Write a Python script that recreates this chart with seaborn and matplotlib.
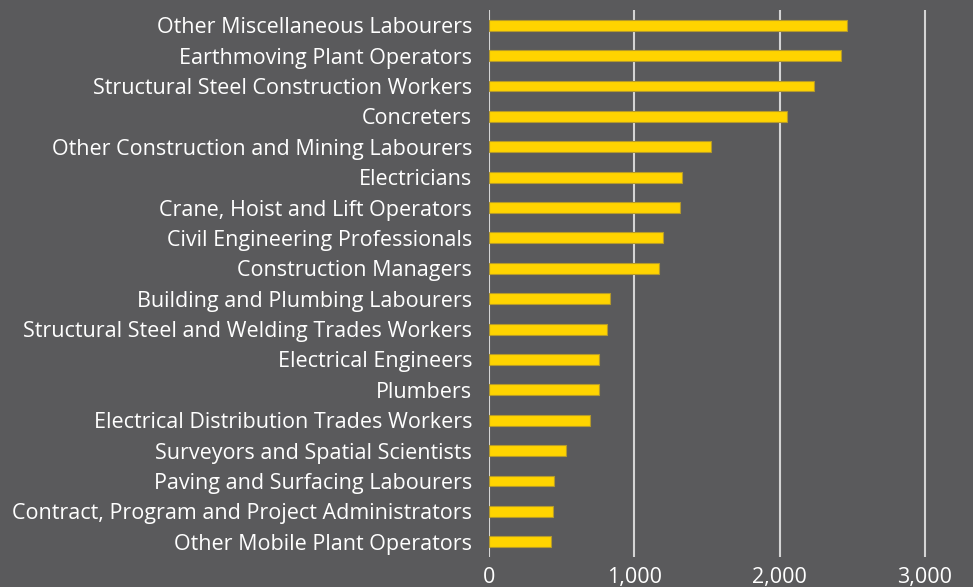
import matplotlib
matplotlib.use('Agg')
import matplotlib.pyplot as plt
import pandas as pd
import seaborn as sns

occupations = [
    'Other Miscellaneous Labourers',
    'Earthmoving Plant Operators',
    'Structural Steel Construction Workers',
    'Concreters',
    'Other Construction and Mining Labourers',
    'Electricians',
    'Crane, Hoist and Lift Operators',
    'Civil Engineering Professionals',
    'Construction Managers',
    'Building and Plumbing Labourers',
    'Structural Steel and Welding Trades Workers',
    'Electrical Engineers',
    'Plumbers',
    'Electrical Distribution Trades Workers',
    'Surveyors and Spatial Scientists',
    'Paving and Surfacing Labourers',
    'Contract, Program and Project Administrators',
    'Other Mobile Plant Operators',
]
workers = [2462, 2423, 2237, 2051, 1528, 1328, 1314, 1197, 1170,
           835, 814, 757, 755, 695, 532, 447, 440, 429]
tick_vals = [0, 1000, 2000, 3000]
tick_labels = ['0', '1,000', '2,000', '3,000']

df = pd.DataFrame({'occupation': occupations, 'workers': workers})

bg = '#5a5a5c'
sns.set_style('dark')
plt.rcParams['font.family'] = ['Open Sans', 'DejaVu Sans']
plt.rcParams['font.weight'] = 'medium'

fig = plt.figure(figsize=(9.73, 5.87), dpi=100, facecolor=bg)
ax = fig.add_axes([489 / 973, 1 - 557 / 587, 1 - 489 / 973, (557 - 10) / 587])
ax.set_facecolor(bg)

sns.barplot(data=df, x='workers', y='occupation', color='#ffd400',
            edgecolor='#b59a2a', linewidth=0.8, width=0.36, saturation=1, ax=ax)

ax.set_xlim(0, 3330)
ax.set_ylim(17.5, -0.5)
ax.set_xticks(tick_vals)
ax.set_xticklabels(tick_labels)
for v in tick_vals:
    ax.axvline(v, color='#d4d4d4', lw=1.5, zorder=0)

for s in ax.spines.values():
    s.set_visible(False)
ax.grid(False)
ax.tick_params(axis='y', length=0, pad=12, labelsize=15.5, labelcolor='white')
ax.tick_params(axis='x', length=0, pad=7, labelsize=15.5, labelcolor='white')
ax.set_xlabel('')
ax.set_ylabel('')

plt.savefig('out.png', dpi=100, facecolor=bg)
